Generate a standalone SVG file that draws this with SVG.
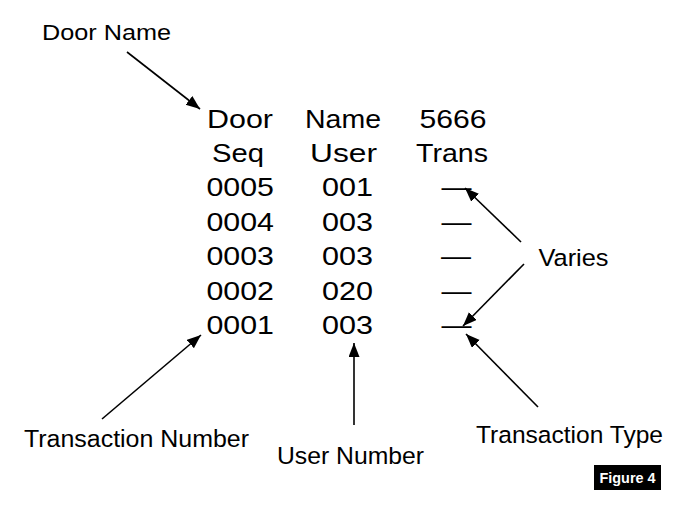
<svg xmlns="http://www.w3.org/2000/svg" width="676" height="520" viewBox="0 0 676 520">
<style>
text{font-family:"Liberation Sans",Arial,Helvetica,sans-serif;fill:#000}
.t{font-size:26.5px}
.l{font-size:24px}
.fig{font-size:15px;font-weight:bold;fill:#fff}
.c{stroke:#000;stroke-width:1.6;fill:none;marker-end:url(#ah)}
</style>
<defs>
<marker id="ah" markerUnits="userSpaceOnUse" markerWidth="15" markerHeight="12" refX="14" refY="5.5" orient="auto">
<path d="M0,0 L14,5.5 L0,11 z" fill="#000"/>
</marker>
</defs>
<rect width="676" height="520" fill="#fff"/>
<g id="door-name"><text class="l" x="42" y="40" style="font-size:22px" textLength="129" lengthAdjust="spacingAndGlyphs">Door Name</text></g>
<g id="table">
<text class="t" x="207" y="127.5" textLength="66" lengthAdjust="spacingAndGlyphs">Door</text>
<text class="t" x="305" y="127.5" textLength="76" lengthAdjust="spacingAndGlyphs">Name</text>
<text class="t" x="419.5" y="127.5" textLength="67" lengthAdjust="spacingAndGlyphs">5666</text>
<text class="t" x="212" y="161.5" textLength="52" lengthAdjust="spacingAndGlyphs">Seq</text>
<text class="t" x="310" y="161.5" textLength="67" lengthAdjust="spacingAndGlyphs">User</text>
<text class="t" x="416" y="161.5" textLength="72" lengthAdjust="spacingAndGlyphs">Trans</text>
<text class="t" x="206.5" y="196" textLength="67.5" lengthAdjust="spacingAndGlyphs">0005</text>
<text class="t" x="322" y="196" textLength="51" lengthAdjust="spacingAndGlyphs">001</text>
<text class="t" x="441.5" y="196" textLength="30" lengthAdjust="spacingAndGlyphs">—</text>
<text class="t" x="206.5" y="230.5" textLength="67.5" lengthAdjust="spacingAndGlyphs">0004</text>
<text class="t" x="322" y="230.5" textLength="51" lengthAdjust="spacingAndGlyphs">003</text>
<text class="t" x="441.5" y="230.5" textLength="30" lengthAdjust="spacingAndGlyphs">—</text>
<text class="t" x="206.5" y="265" textLength="67.5" lengthAdjust="spacingAndGlyphs">0003</text>
<text class="t" x="322" y="265" textLength="51" lengthAdjust="spacingAndGlyphs">003</text>
<text class="t" x="441" y="265" textLength="30" lengthAdjust="spacingAndGlyphs">—</text>
<text class="t" x="206.5" y="299.5" textLength="67.5" lengthAdjust="spacingAndGlyphs">0002</text>
<text class="t" x="322" y="299.5" textLength="51" lengthAdjust="spacingAndGlyphs">020</text>
<text class="t" x="441.5" y="299.5" textLength="30" lengthAdjust="spacingAndGlyphs">—</text>
<text class="t" x="206.5" y="334" textLength="67.5" lengthAdjust="spacingAndGlyphs">0001</text>
<text class="t" x="322" y="334" textLength="51" lengthAdjust="spacingAndGlyphs">003</text>
<text class="t" x="441.5" y="334" textLength="30" lengthAdjust="spacingAndGlyphs">—</text>
</g>
<g id="varies"><text class="l" x="538.5" y="266" style="font-size:24.5px" textLength="70" lengthAdjust="spacingAndGlyphs">Varies</text></g>
<g id="transaction-number"><text class="l" x="24" y="447" style="font-size:23.5px" textLength="225" lengthAdjust="spacingAndGlyphs">Transaction Number</text></g>
<g id="user-number"><text class="l" x="277" y="464" textLength="147" lengthAdjust="spacingAndGlyphs">User Number</text></g>
<g id="transaction-type"><text class="l" x="476" y="443" style="font-size:24.5px" textLength="187" lengthAdjust="spacingAndGlyphs">Transaction Type</text></g>
<g id="figure-4">
<rect x="594" y="465" width="67" height="25" fill="#000"/>
<text class="fig" x="599.5" y="483" textLength="56" lengthAdjust="spacingAndGlyphs">Figure 4</text>
</g>
<g id="connectors">
<line class="c" x1="127" y1="52" x2="200" y2="109"/>
<line class="c" x1="521" y1="242" x2="465" y2="188"/>
<line class="c" x1="524" y1="264" x2="463" y2="326"/>
<line class="c" x1="538" y1="407" x2="466" y2="334"/>
<line class="c" x1="354" y1="425" x2="354" y2="343"/>
<line class="c" x1="102" y1="419" x2="201" y2="335"/>
</g>
</svg>
